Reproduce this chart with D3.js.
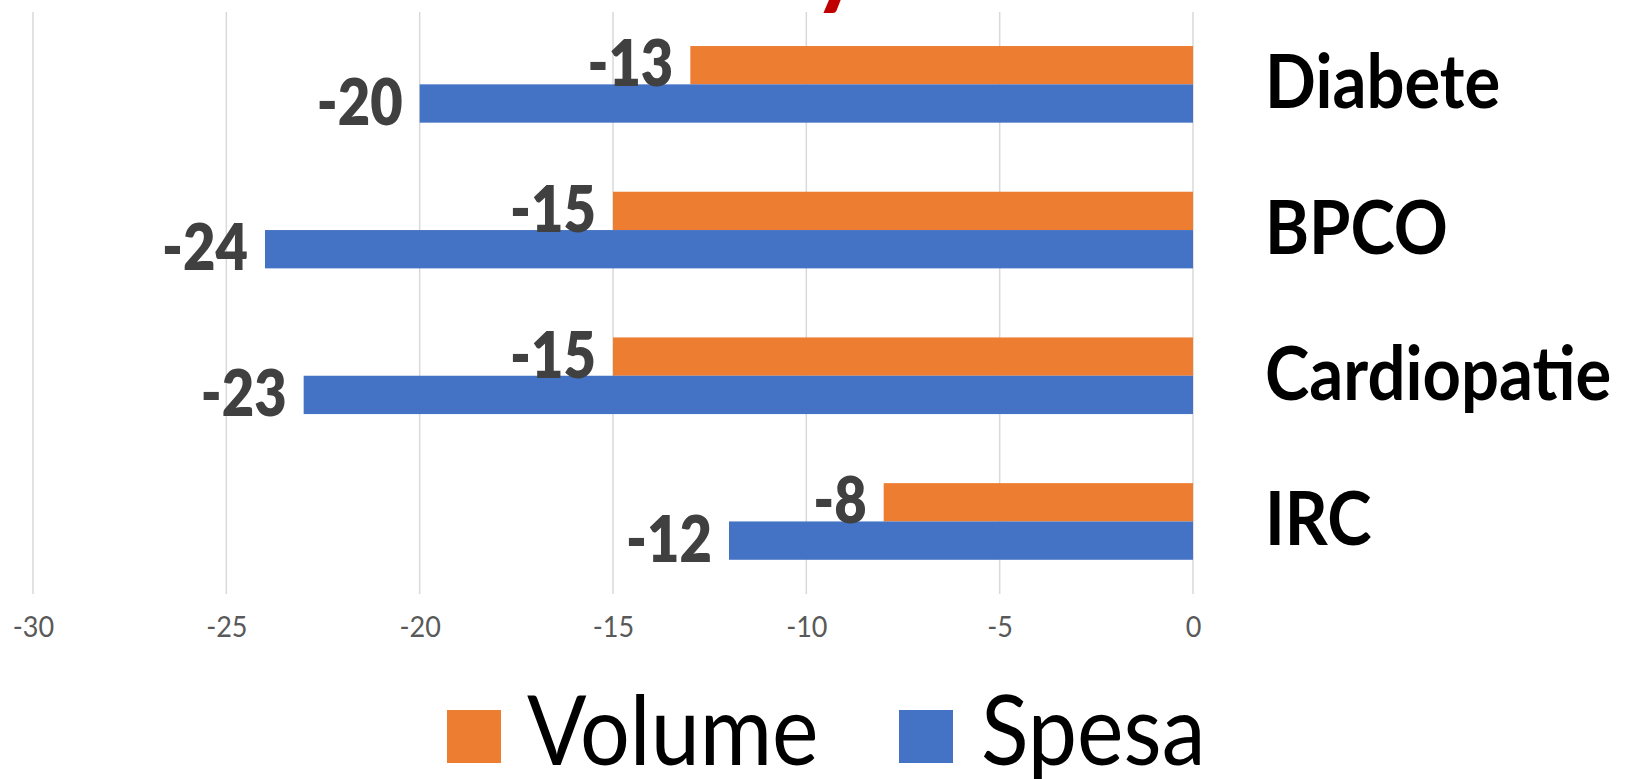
<!DOCTYPE html>
<html>
<head>
<meta charset="utf-8">
<script src="https://cdn.jsdelivr.net/npm/d3@7"></script>
<style>
  html, body { margin: 0; padding: 0; background: #ffffff; }
  svg { display: block; }
  text { font-family: Lato, "Open Sans", sans-serif; }
</style>
</head>
<body>
<svg id="chart" width="1627" height="779"></svg>
<script>
// Categories (top to bottom) and the two series, in percent change
const categories = ["Diabete", "BPCO", "Cardiopatie", "IRC"];
const seriesNames = ["Volume", "Spesa"];
const volume = [-13, -15, -15, -8];
const spesa = [-20, -24, -23, -12];
const tickValues = [-30, -25, -20, -15, -10, -5, 0];
const colors = { Volume: "#ED7D31", Spesa: "#4472C4" };

const rows = categories.map((c, i) => ({ category: c, Volume: volume[i], Spesa: spesa[i] }));

const svg = d3.select("#chart");

// Scales
const x = d3.scaleLinear().domain([-30, 0]).range([33, 1193]);
const y = d3.scaleBand().domain(categories).range([11.5, 594.3])
  .paddingInner(0.474).paddingOuter(0.237);
const ySub = d3.scaleBand().domain(seriesNames).range([0, y.bandwidth()]);

// Text is drawn slightly taller than wide, like the narrow office typeface
const tall = (px, py, sy) => `translate(${px},${py}) scale(1,${sy})`;

// Red title fragment peeking in at the top edge
svg.append("text")
  .attr("transform", tall(812, -5, 1.1))
  .attr("fill", "#C00000")
  .attr("font-weight", 700)
  .attr("font-size", 100)
  .text("y");

// Vertical gridlines
svg.append("g").attr("class", "grid")
  .selectAll("line").data(tickValues).join("line")
  .attr("x1", d => x(d)).attr("x2", d => x(d))
  .attr("y1", 12).attr("y2", 594)
  .attr("stroke", "#d9d9d9").attr("stroke-width", 1.5);

// Value axis labels
const axis = d3.axisBottom(x).tickValues(tickValues).tickSize(0).tickPadding(0)
  .tickFormat(d => String(d));
const axisG = svg.append("g").attr("transform", "translate(0,616)").call(axis);
axisG.select(".domain").remove();
axisG.selectAll("text")
  .attr("font-family", "Lato, sans-serif")
  .attr("font-size", 27)
  .attr("fill", "#595959")
  .attr("dy", "0.71em")
  .attr("transform", "scale(1,1.08)");

// Bars
const groups = svg.append("g").selectAll("g").data(rows).join("g")
  .attr("transform", d => `translate(0,${y(d.category)})`);

groups.selectAll("rect")
  .data(d => seriesNames.map(s => ({ s, v: d[s] })))
  .join("rect")
  .attr("x", d => x(d.v))
  .attr("y", d => ySub(d.s))
  .attr("width", d => x(0) - x(d.v))
  .attr("height", ySub.bandwidth())
  .attr("fill", d => colors[d.s]);

// Data labels, placed just left of each bar end
groups.selectAll("text.val")
  .data(d => seriesNames.map(s => ({ s, v: d[s] })))
  .join("text")
  .attr("class", "val")
  .attr("transform", d => tall(x(d.v) - 17, ySub(d.s) + ySub.bandwidth() / 2 + 21, 1.15))
  .attr("text-anchor", "end")
  .attr("font-weight", 800)
  .attr("font-size", 56)
  .attr("fill", "#404040")
  .text(d => String(d.v));

// Category labels to the right of the zero line
svg.append("g").selectAll("text").data(categories).join("text")
  .attr("transform", d => tall(1265, y(d) + y.bandwidth() / 2 + 24, 1.12))
  .attr("font-weight", 700)
  .attr("font-size", 67)
  .attr("fill", "#000000")
  .text(d => d);

// Legend
const legendItems = [
  { name: "Volume", sx: 447, tx: 527 },
  { name: "Spesa", sx: 899, tx: 981 }
];
const legend = svg.append("g");
legend.selectAll("rect").data(legendItems).join("rect")
  .attr("x", d => d.sx).attr("y", 710)
  .attr("width", 54).attr("height", 53)
  .attr("fill", d => colors[d.name]);
legend.selectAll("text").data(legendItems).join("text")
  .attr("transform", d => tall(d.tx, 765, 1.1))
  .attr("font-size", 88)
  .attr("fill", "#000000")
  .text(d => d.name);
</script>
</body>
</html>
